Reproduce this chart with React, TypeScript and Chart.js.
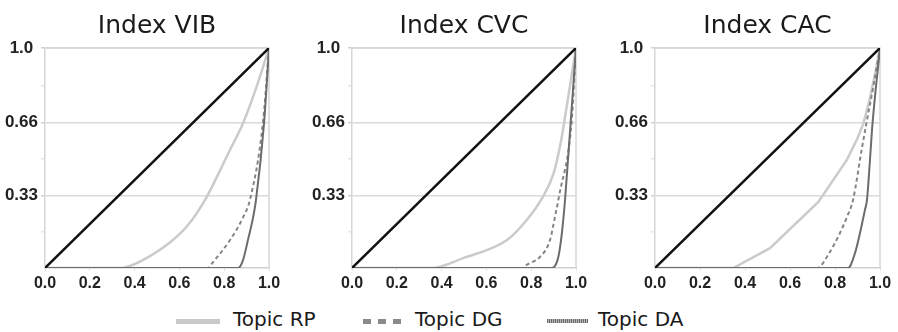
import React, { useEffect, useRef } from "react";
import { Chart, registerables } from "chart.js";

Chart.register(...registerables);

// ---- tick values / labels ----
const xTickValues = [0, 0.2, 0.4, 0.6, 0.8, 1.0];
const xTickLabels = ["0.0", "0.2", "0.4", "0.6", "0.8", "1.0"];
const yTickValues = [0.33, 0.66, 1.0];
const yTickLabels = ["0.33", "0.66", "1.0"];
const yMinorTicks = [0.165, 0.495, 0.83];

// ---- titles / names ----
const panelTitles = ["Index VIB", "Index CVC", "Index CAC"];
const seriesNames = ["Topic RP", "Topic DG", "Topic DA"];

// ---- equality line ----
const diagX = [0, 1];
const diagY = [0, 1];

// ---- Index VIB ----
const vibRpX = [0, 0.34, 0.4, 0.47, 0.55, 0.63, 0.714, 0.825, 0.885, 0.95, 1];
const vibRpY = [0, 0, 0.018, 0.055, 0.11, 0.185, 0.309, 0.535, 0.66, 0.84, 1];
const vibDgX = [0, 0.728, 0.745, 0.826, 0.884, 0.915, 0.973, 1];
const vibDgY = [0, 0, 0.02, 0.127, 0.23, 0.31, 0.66, 1];
const vibDaX = [0, 0.862, 0.884, 0.906, 0.929, 0.942, 0.978, 1];
const vibDaY = [0, 0, 0.036, 0.127, 0.23, 0.31, 0.66, 1];

// ---- Index CVC ----
const cvcRpX = [0, 0.355, 0.496, 0.692, 0.78, 0.85, 0.9, 0.93, 0.95, 0.975, 1];
const cvcRpY = [0, 0, 0.045, 0.127, 0.218, 0.32, 0.43, 0.56, 0.68, 0.84, 1];
const cvcDgX = [0, 0.765, 0.78, 0.839, 0.884, 0.906, 0.925, 0.98, 1];
const cvcDgY = [0, 0, 0.014, 0.05, 0.127, 0.232, 0.33, 0.66, 1];
const cvcDaX = [0, 0.888, 0.92, 0.937, 0.951, 0.976, 1];
const cvcDaY = [0, 0, 0.045, 0.159, 0.309, 0.66, 1];

// ---- Index CAC ----
const cacRpX = [0, 0.348, 0.511, 0.726, 0.852, 0.9, 0.926, 0.955, 0.978, 1];
const cacRpY = [0, 0, 0.09, 0.3, 0.49, 0.59, 0.656, 0.77, 0.883, 1];
const cacDgX = [0, 0.722, 0.769, 0.822, 0.853, 0.88, 0.918, 0.94, 0.973, 1];
const cacDgY = [0, 0, 0.059, 0.159, 0.232, 0.309, 0.535, 0.66, 0.84, 1];
const cacDaX = [0, 0.858, 0.889, 0.911, 0.933, 0.942, 0.967, 1];
const cacDaY = [0, 0, 0.068, 0.159, 0.264, 0.309, 0.66, 1];

const panelData = [
  { rp: [vibRpX, vibRpY], dg: [vibDgX, vibDgY], da: [vibDaX, vibDaY], rpSmooth: true },
  { rp: [cvcRpX, cvcRpY], dg: [cvcDgX, cvcDgY], da: [cvcDaX, cvcDaY], rpSmooth: true },
  { rp: [cacRpX, cacRpY], dg: [cacDgX, cacDgY], da: [cacDaX, cacDaY], rpSmooth: false },
];

// ---- layout (positions only) ----
const panelLayout = [
  { left: 0, width: 300, axisW: 45, padRight: 31 },
  { left: 300, width: 300, axisW: 52, padRight: 24 },
  { left: 600, width: 298, axisW: 55, padRight: 18 },
];
const CANVAS_H = 294;

const pts = (xs: number[], ys: number[]) => xs.map((x, i) => ({ x, y: ys[i] }));

const framePlugin = {
  id: "frame",
  beforeDatasetsDraw(chart: any) {
    const { ctx, chartArea } = chart;
    ctx.save();
    ctx.strokeStyle = "#d6d6d6";
    ctx.lineWidth = 1.5;
    ctx.beginPath();
    ctx.moveTo(chartArea.left, chartArea.top);
    ctx.lineTo(chartArea.right, chartArea.top);
    ctx.lineTo(chartArea.right, chartArea.bottom);
    ctx.stroke();
    ctx.restore();
  },
};

function Panel({ idx }: { idx: number }) {
  const ref = useRef<HTMLCanvasElement>(null);
  const lay = panelLayout[idx];
  useEffect(() => {
    const d = panelData[idx];
    const allY = [...yMinorTicks, ...yTickValues].sort((a, b) => a - b);
    const chart = new Chart(ref.current!, {
      type: "line",
      data: {
        datasets: [
          {
            label: "equality",
            data: pts(diagX, diagY),
            borderColor: "#111111",
            borderWidth: 2.5,
            pointRadius: 0,
            tension: 0,
          },
          {
            label: seriesNames[2],
            data: pts(d.da[0], d.da[1]),
            borderColor: "#6c6c6c",
            borderWidth: 2,
            pointRadius: 0,
            cubicInterpolationMode: "monotone",
          },
          {
            label: seriesNames[1],
            data: pts(d.dg[0], d.dg[1]),
            borderColor: "#858585",
            borderWidth: 2,
            borderDash: [4, 3],
            pointRadius: 0,
            cubicInterpolationMode: "monotone",
          },
          {
            label: seriesNames[0],
            data: pts(d.rp[0], d.rp[1]),
            borderColor: "#cbcbcb",
            borderWidth: 2.5,
            pointRadius: 0,
            ...(d.rpSmooth ? { cubicInterpolationMode: "monotone" } : { tension: 0 }),
          },
        ] as any,
      },
      options: {
        responsive: false,
        animation: false,
        layout: { padding: { left: 0, right: lay.padRight, top: 0, bottom: 0 } },
        plugins: {
          legend: { display: false },
          tooltip: { enabled: false },
          title: {
            display: true,
            text: panelTitles[idx],
            fullSize: false,
            color: "#1a1a1a",
            font: { family: "'DejaVu Sans'", size: 25, weight: "normal" },
            padding: { top: 11, bottom: 7 },
          },
        },
        scales: {
          x: {
            type: "linear",
            min: 0,
            max: 1,
            afterBuildTicks: (s: any) => {
              s.ticks = xTickValues.map((v) => ({ value: v }));
            },
            afterFit: (s: any) => {
              s.height = CANVAS_H - 268;
            },
            ticks: {
              autoSkip: false,
              maxRotation: 0,
              padding: 3,
              color: "#222",
              font: { family: "'Liberation Sans'", size: 16, weight: "bold" },
              callback: (v: any) => {
                const i = xTickValues.findIndex((t) => Math.abs(t - v) < 1e-6);
                return i >= 0 ? xTickLabels[i] : "";
              },
            },
            grid: { drawOnChartArea: false, drawTicks: true, tickLength: 3, tickColor: "#e2e2e2" },
            border: { display: true, color: "#d0d0d0", width: 1.5 },
          },
          y: {
            type: "linear",
            min: 0,
            max: 1,
            afterBuildTicks: (s: any) => {
              s.ticks = allY.map((v) => ({ value: v }));
            },
            afterFit: (s: any) => {
              s.width = lay.axisW;
            },
            ticks: {
              autoSkip: false,
              padding: 3,
              crossAlign: "center",
              color: "#222",
              font: { family: "'Liberation Sans'", size: 17, weight: "bold" },
              callback: (v: any) => {
                const i = yTickValues.findIndex((t) => Math.abs(t - v) < 1e-6);
                return i >= 0 ? yTickLabels[i] : "";
              },
            },
            grid: {
              drawTicks: true,
              tickLength: 4,
              lineWidth: 1.5,
              color: (c: any) =>
                yTickValues.some((t) => Math.abs(t - c.tick?.value) < 1e-6) ? "#dadada" : "rgba(0,0,0,0)",
              tickColor: (c: any) =>
                yTickValues.some((t) => Math.abs(t - c.tick?.value) < 1e-6) ? "#d0d0d0" : "#e6e6e6",
            },
            border: { display: true, color: "#d6d6d6", width: 1.5 },
          },
        },
      } as any,
      plugins: [framePlugin],
    });
    return () => chart.destroy();
  }, []);
  return (
    <canvas
      ref={ref}
      width={lay.width}
      height={CANVAS_H}
      style={{ position: "absolute", left: lay.left, top: 0, width: lay.width, height: CANVAS_H }}
    />
  );
}

const legendFont: React.CSSProperties = {
  position: "absolute",
  top: 309,
  fontFamily: "'DejaVu Sans'",
  fontSize: 20,
  lineHeight: "20px",
  color: "#1a1a1a",
  whiteSpace: "nowrap",
};

export default function App() {
  return (
    <div
      style={{
        position: "absolute",
        left: 0,
        top: 0,
        width: 898,
        height: 332,
        background: "#fff",
        overflow: "hidden",
      }}
    >
      {panelTitles.map((_, i) => (
        <Panel key={i} idx={i} />
      ))}
      {/* legend */}
      <div style={{ position: "absolute", left: 176, top: 319, width: 44, height: 5, background: "#c9c9c9" }} />
      <span style={{ ...legendFont, left: 233 }}>{seriesNames[0]}</span>
      <div
        style={{
          position: "absolute",
          left: 363,
          top: 319,
          width: 40,
          height: 5,
          background: "repeating-linear-gradient(90deg, #8a8a8a 0 8px, transparent 8px 15px)",
        }}
      />
      <span style={{ ...legendFont, left: 415 }}>{seriesNames[1]}</span>
      <div
        style={{
          position: "absolute",
          left: 547,
          top: 319,
          width: 41,
          height: 4,
          background: "repeating-linear-gradient(90deg, #6a6a6a 0 1px, #b8b8b8 1px 2px)",
        }}
      />
      <span style={{ ...legendFont, left: 598 }}>{seriesNames[2]}</span>
    </div>
  );
}
